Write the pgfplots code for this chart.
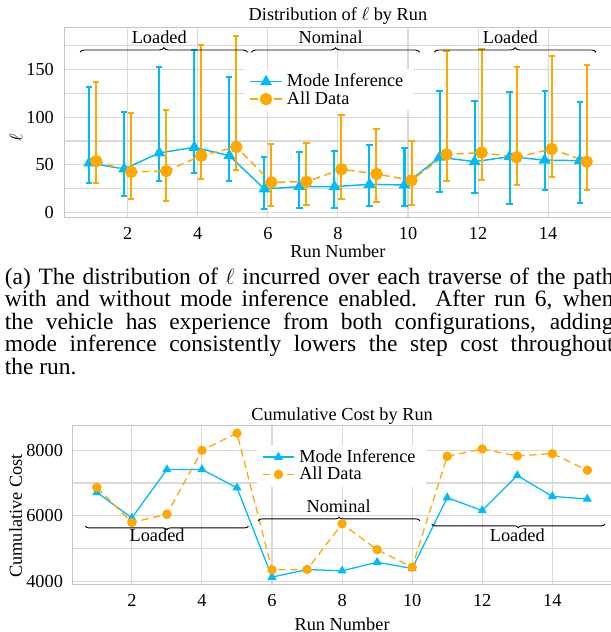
\documentclass[border=0pt]{standalone}
\usepackage{fontspec}
\setmainfont{Liberation Serif}
\usepackage{pgfplots}
\usepackage{pgfplotstable}
\pgfplotsset{compat=1.18}
\usetikzlibrary{decorations.pathreplacing}

\definecolor{miblue}{RGB}{0,187,245}
\definecolor{adorange}{RGB}{255,168,0}
\newcommand\capfont{\fontsize{12.8}{12.3}\selectfont}

% top chart: x, mean, error plus, error minus
\pgfplotstableread{
x y ep em
0.9 52.0 79.0 21.0
1.9 45.7 59.3 28.2
2.9 62.5 89.5 29.5
3.9 68.4 101.6 26.4
4.9 59.6 82.0 26.6
5.9 24.8 33.8 20.9
6.9 27.2 35.8 22.6
7.9 27.2 37.3 22.0
8.9 29.7 40.8 22.7
9.9 29.0 38.7 22.0
10.9 58.0 69.6 36.4
11.9 53.4 63.6 32.8
12.9 58.6 67.4 49.2
13.9 55.0 72.6 31.3
14.9 54.4 61.6 43.9
}\mitab
\pgfplotstableread{
x y ep em
1.1 54.0 83.0 23.0
2.1 42.6 61.4 28.6
3.1 43.6 63.4 31.0
4.1 59.6 115.4 24.0
5.1 68.7 116.3 24.0
6.1 31.8 39.7 24.5
7.1 32.4 40.2 24.4
8.1 45.4 56.6 31.4
9.1 40.5 47.5 29.0
10.1 33.9 41.1 25.9
11.1 61.0 108.5 27.5
12.1 62.8 108.2 28.9
13.1 58.0 94.0 29.3
14.1 66.6 97.4 28.9
15.1 53.4 100.6 29.7
}\adtab
% bottom chart
\pgfplotstableread{
x y
1 6714
2 5934
3 7413
4 7413
5 6856
6 4122
7 4354
8 4314
9 4577
10 4385
11 6552
12 6157
13 7230
14 6592
15 6511
}\micost
\pgfplotstableread{
x y
1 6866
2 5792
3 6046
4 8000
5 8527
6 4344
7 4354
8 5752
9 4962
10 4425
11 7818
12 8041
13 7828
14 7899
15 7392
}\adcost

\pgfplotsset{
  common/.style={
    scale only axis,
    /pgf/number format/assume math mode=true,
    /pgf/number format/1000 sep={},
    scaled ticks=false,
    tick style={draw=none},
    axis line style={draw=gray!45, line width=0.6pt},
    xmajorgrids, ymajorgrids, yminorgrids,
    major grid style={draw=gray!30, line width=0.6pt},
    minor grid style={draw=gray!30, line width=0.6pt},
    xtick={2,4,...,14},
    xticklabel style={anchor=base, yshift=-11.9pt},
    every axis title shift=0pt,
    legend cell align=left,
    legend style={draw=none, fill=white, anchor=north west,
      inner xsep=3pt, inner ysep=2pt,
      nodes={inner xsep=2.5pt, inner ysep=0.5pt}},
  }
}

\begin{document}
\begin{tikzpicture}
\begin{axis}[common,
  at={(35.13pt,-14.92pt)}, anchor=north west,
  width=299pt, height=104pt,
  xmin=0.19, xmax=15.81, ymin=-5.2, ymax=193.9,
  ytick={0,50,100,150}, minor ytick={25,75,125,175},
  yticklabel style={xshift=-2.2pt},
  title={Distribution of $\ell$ by Run},
  title style={at={(0.5,1)}, anchor=base, yshift=3.6pt},
  xlabel={Run Number},
  xlabel style={at={(axis description cs:0.5,0)}, anchor=base, yshift=-22pt},
  ylabel={$\ell$},
  ylabel style={at={(axis description cs:-0.088,0.42)}, anchor=center},
  legend style={at={(0.328,0.781)}},
]
\addplot[color=miblue, line width=0.8pt, mark=triangle*, mark size=3pt,
  error bars/.cd, y dir=both, y explicit,
  error bar style={line width=1.1pt, color=miblue},
  error mark options={rotate=90, mark size=1.7pt, line width=1.1pt, color=miblue}]
  table[x=x, y=y, y error plus=ep, y error minus=em] {\mitab};
\addlegendentry{Mode Inference}
\addplot[color=adorange, line width=0.8pt, dash pattern=on 4pt off 2.5pt,
  mark=*, mark size=3pt, mark options={solid},
  error bars/.cd, y dir=both, y explicit,
  error bar style={line width=1.1pt, color=adorange, solid},
  error mark options={rotate=90, mark size=1.7pt, line width=1.1pt, color=adorange, solid}]
  table[x=x, y=y, y error plus=ep, y error minus=em] {\adtab};
\addlegendentry{All Data}
\draw[decorate, decoration={brace, amplitude=2.5pt}, line width=0.5pt]
  (axis cs:0.64,167.8) -- (axis cs:5.42,167.8);
\draw[decorate, decoration={brace, amplitude=2.5pt}, line width=0.5pt]
  (axis cs:5.53,167.8) -- (axis cs:10.33,167.8);
\draw[decorate, decoration={brace, amplitude=2.5pt}, line width=0.5pt]
  (axis cs:10.75,167.8) -- (axis cs:15.37,167.8);
\node at (axis cs:2.9,183.6) {Loaded};
\node at (axis cs:7.79,183.6) {Nominal};
\node at (axis cs:12.92,183.6) {Loaded};
\end{axis}

\node[anchor=base west, inner sep=0pt, font=\capfont] at (2.5pt,-155.2pt)
  {\makebox[332.5pt][s]{(a) The distribution of $\ell$ incurred over each traverse of the path}};
\node[anchor=base west, inner sep=0pt, font=\capfont] at (2.5pt,-167.5pt)
  {\makebox[332.5pt][s]{with and without mode inference enabled. After run 6, when}};
\node[anchor=base west, inner sep=0pt, font=\capfont] at (2.5pt,-179.8pt)
  {\makebox[332.5pt][s]{the vehicle has experience from both configurations, adding}};
\node[anchor=base west, inner sep=0pt, font=\capfont] at (2.5pt,-192.1pt)
  {\makebox[332.5pt][s]{mode inference consistently lowers the step cost throughout}};
\node[anchor=base west, inner sep=0pt, font=\capfont] at (2.5pt,-204.4pt)
  {the run.};

\begin{axis}[common,
  at={(39.5pt,-232.6pt)}, anchor=north west,
  width=294.8pt, height=86.9pt,
  xmin=0.3, xmax=15.7, ymin=3887, ymax=8753,
  ytick={4000,6000,8000}, minor ytick={5000,7000},
  yticklabel style={xshift=-1.6pt},
  title={Cumulative Cost by Run},
  title style={at={(0.5,1)}, anchor=base, yshift=2.7pt},
  xlabel={Run Number},
  xlabel style={at={(axis description cs:0.5,0)}, anchor=base, yshift=-24.8pt},
  ylabel={Cumulative Cost},
  ylabel style={at={(axis description cs:-0.105,0.433)}, anchor=center},
  legend style={at={(0.341,0.883)}},
]
\addplot[color=miblue, line width=0.7pt, mark=triangle*, mark size=2.2pt]
  table[x=x, y=y] {\micost};
\addlegendentry{Mode Inference}
\addplot[color=adorange, line width=0.7pt, dash pattern=on 4pt off 2.5pt,
  mark=*, mark size=2.2pt, mark options={solid}]
  table[x=x, y=y] {\adcost};
\addlegendentry{All Data}
\draw[decorate, decoration={brace, mirror, amplitude=2pt}, line width=0.5pt]
  (axis cs:0.67,5684) -- (axis cs:5.33,5684);
\draw[decorate, decoration={brace, amplitude=2pt}, line width=0.5pt]
  (axis cs:5.61,5846) -- (axis cs:10.22,5846);
\draw[decorate, decoration={brace, mirror, amplitude=2pt}, line width=0.5pt]
  (axis cs:10.56,5745) -- (axis cs:15.5,5745);
\node at (axis cs:2.72,5408) {Loaded};
\node at (axis cs:7.9,6296) {Nominal};
\node at (axis cs:13.0,5408) {Loaded};
\end{axis}

\pgfresetboundingbox
\path[use as bounding box] (0,0) rectangle (333.3pt,-345.3pt);
\end{tikzpicture}
\end{document}
